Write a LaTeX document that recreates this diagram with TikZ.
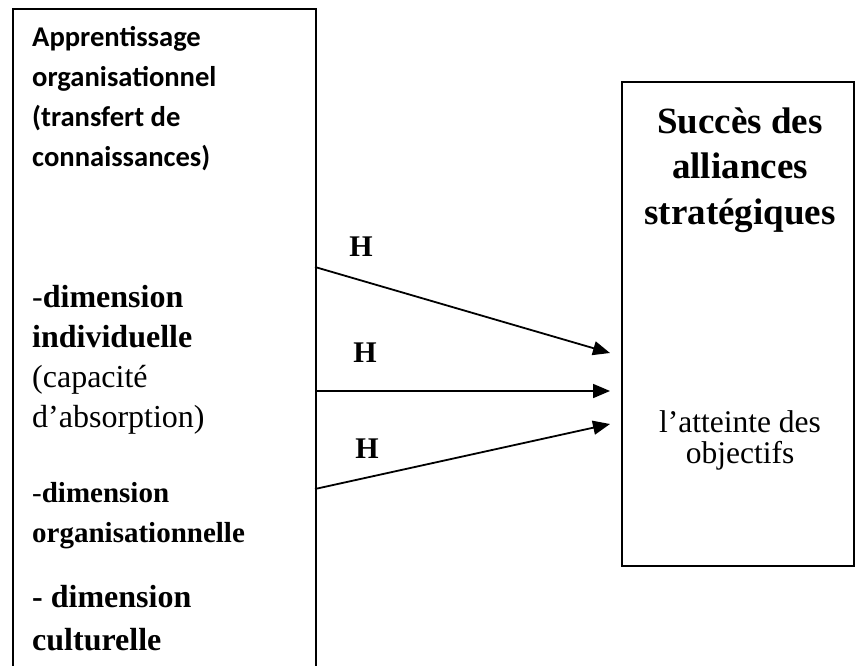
\documentclass[tikz,border=0pt]{standalone}
\usepackage{fontspec}
\setmainfont{Liberation Serif}
\newfontfamily\calibri{Carlito}
\usetikzlibrary{arrows.meta}

\begin{document}
\begin{tikzpicture}[x=1pt,y=-1pt,
    box/.style={draw, line width=1.6pt, inner sep=0pt, anchor=north west},
    txt/.style={anchor=base west, align=left, inner sep=0pt},
    hyp/.style={anchor=base, inner sep=0pt, font=\bfseries\fontsize{30}{34}\selectfont},
    link/.style={line width=1.8pt, -{Triangle[length=17pt,width=14pt]}}]
  \clip (0,0) rectangle (855,666);
  % the two boxes
  \node[box, minimum width=303pt, minimum height=720pt] (learn) at (12,8) {};
  \node[box, minimum width=232pt, minimum height=484pt] (success) at (621,81) {};
  % left side (base = last line)
  \node[txt, font=\calibri\bfseries\fontsize{28.6}{40}\selectfont] (head) at (32,167)
    {Apprentissage\\organisationnel\\(transfert de\\connaissances)};
  \node[txt, font=\fontsize{32}{40}\selectfont] (indiv) at (32,427)
    {-\textbf{dimension}\\\textbf{individuelle}\\(capacité\\d’absorption)};
  \node[txt, font=\bfseries\fontsize{29}{40}\selectfont] (orga) at (32,542)
    {\mdseries-\bfseries dimension\\organisationnelle};
  \node[txt, font=\bfseries\fontsize{32}{43}\selectfont] (cult) at (32,650)
    {- dimension\\culturelle};
  % right side
  \node[anchor=base, align=center, inner sep=0pt, font=\bfseries\fontsize{37}{46}\selectfont] (title) at (740,225)
    {Succès des\\alliances\\stratégiques};
  \node[anchor=base, align=center, inner sep=0pt, font=\fontsize{31.5}{31}\selectfont] (goal) at (740,463)
    {l’atteinte des\\objectifs};
  % hypotheses
  \coordinate (s1) at (315,267);
  \coordinate (s2) at (315,391);
  \coordinate (s3) at (315,489);
  \coordinate (t1) at (610,353);
  \coordinate (t2) at (610,391);
  \coordinate (t3) at (610,424);
  \draw[link] (s1) -- (t1);
  \draw[link] (s2) -- (t2);
  \draw[link] (s3) -- (t3);
  \node[hyp] (h1) at (361,257) {H};
  \node[hyp] (h2) at (365,362) {H};
  \node[hyp] (h3) at (367,458) {H};
\end{tikzpicture}
\end{document}
